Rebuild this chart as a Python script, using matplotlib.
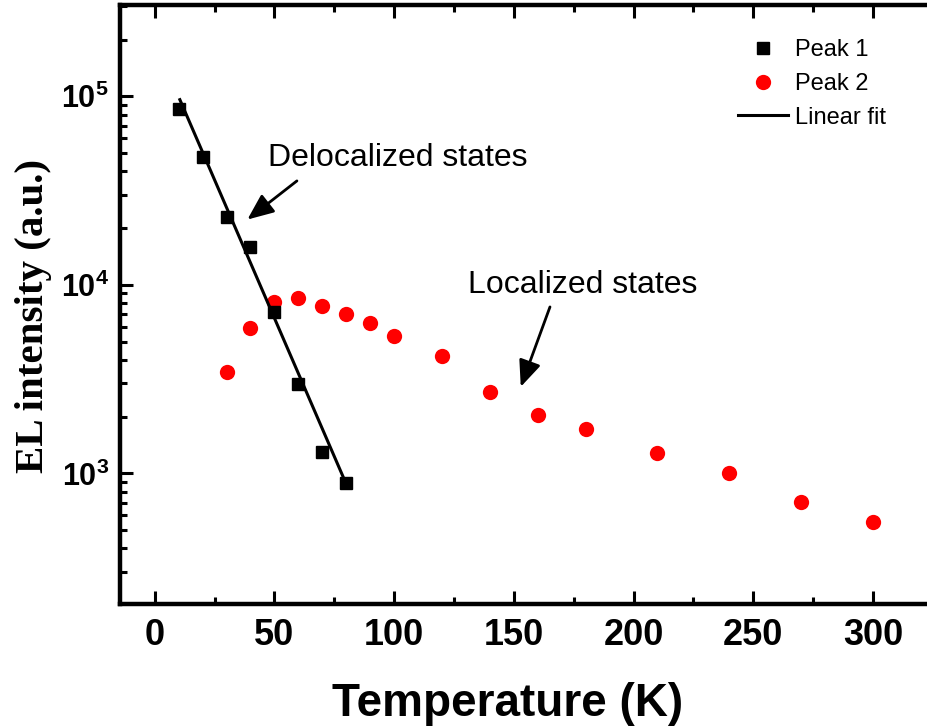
import numpy as np
import matplotlib
matplotlib.use('Agg')
import matplotlib.pyplot as plt
from matplotlib.ticker import LogLocator, FixedLocator, FuncFormatter, NullFormatter

plt.rcParams['font.family'] = 'Liberation Sans'
plt.rcParams['mathtext.fontset'] = 'custom'
plt.rcParams['mathtext.rm'] = 'Liberation Sans:bold'
plt.rcParams['mathtext.bf'] = 'Liberation Sans:bold'
plt.rcParams['mathtext.it'] = 'Liberation Sans:bold'

# Peak 1 (delocalized states)
peak1_T = [10, 20, 30, 40, 50, 60, 70, 80]
peak1_I = [86000, 47600, 22900, 15900, 7150, 2970, 1300, 887]

# Peak 2 (localized states)
peak2_T = [30, 40, 50, 60, 70, 80, 90, 100, 120, 140, 160, 180, 210, 240, 270, 300]
peak2_I = [3460, 5940, 8070, 8480, 7710, 6970, 6290, 5350, 4190, 2690, 2050, 1730,
           1290, 1010, 708, 555]

# linear fit (on log scale) end points as drawn
fit_T = [10.5, 79]
fit_I = [96000, 940]

xticks = [0, 50, 100, 150, 200, 250, 300]

fig = plt.figure(figsize=(9.28, 7.27), dpi=100)
ax = fig.add_axes([120/928, 123/727, 808/928, 599/727])

ax.plot(peak1_T, peak1_I, 's', color='black', markersize=9, label='Peak 1', zorder=3)
ax.plot(peak2_T, peak2_I, 'o', color='red', markersize=11, markeredgewidth=0,
        label='Peak 2', zorder=2)
ax.plot(fit_T, fit_I, '-', color='black', lw=2.2, label='Linear fit', zorder=4)

ax.set_yscale('log')
ax.set_xlim(-14.5, 323)
ax.set_ylim(203, 3.05e5)

ax.xaxis.set_major_locator(FixedLocator(xticks))
ax.xaxis.set_minor_locator(FixedLocator([25, 75, 125, 175, 225, 275]))
ax.yaxis.set_major_locator(LogLocator(base=10, numticks=10))
ax.yaxis.set_minor_locator(LogLocator(base=10, subs=np.arange(2, 10), numticks=20))
ax.yaxis.set_major_formatter(FuncFormatter(lambda v, p: r'$\mathbf{10^{%d}}$' % round(np.log10(v))))
ax.yaxis.set_minor_formatter(NullFormatter())

for s in ['left', 'top', 'bottom']:
    ax.spines[s].set_linewidth(3.2)
ax.spines['right'].set_visible(False)

ax.tick_params(which='major', direction='in', length=9.5, width=2.2, top=True)
ax.tick_params(which='minor', direction='in', length=5, width=2.2, top=True)
ax.tick_params(axis='x', which='major', labelsize=26, pad=10)
ax.tick_params(axis='y', which='major', labelsize=22, pad=8)
for lbl in ax.get_xticklabels():
    lbl.set_fontweight('bold')

ax.set_xlabel('Temperature (K)', fontsize=33, fontweight='bold')
ax.xaxis.set_label_coords(0.48, -0.13)
ax.set_ylabel('EL intensity (a.u.)', fontsize=29.5, fontweight='bold',
              family='Liberation Serif')
ax.yaxis.set_label_coords(-0.084, 0.481)

# annotations
arrow = dict(arrowstyle='-|>,head_length=0.8,head_width=0.34', mutation_scale=20,
             color='black', lw=2, shrinkA=0, shrinkB=0)
ax.text(47.4, 46900, 'Delocalized states', fontsize=23, va='center', ha='left')
ax.annotate('', xy=(38.7, 22200), xytext=(59.4, 35600), arrowprops=arrow)
ax.text(131, 10000, 'Localized states', fontsize=23, va='center', ha='left')
ax.annotate('', xy=(152.9, 2880), xytext=(165.1, 7640), arrowprops=arrow)

ax.legend(loc='upper left', bbox_to_anchor=(738/928, 1 - 39/727),
          bbox_transform=fig.transFigure, frameon=False, fontsize=17,
          borderpad=0, borderaxespad=0, handlelength=2.1, handletextpad=0.3,
          labelspacing=0.5)

fig.savefig('out.png', dpi=100)
